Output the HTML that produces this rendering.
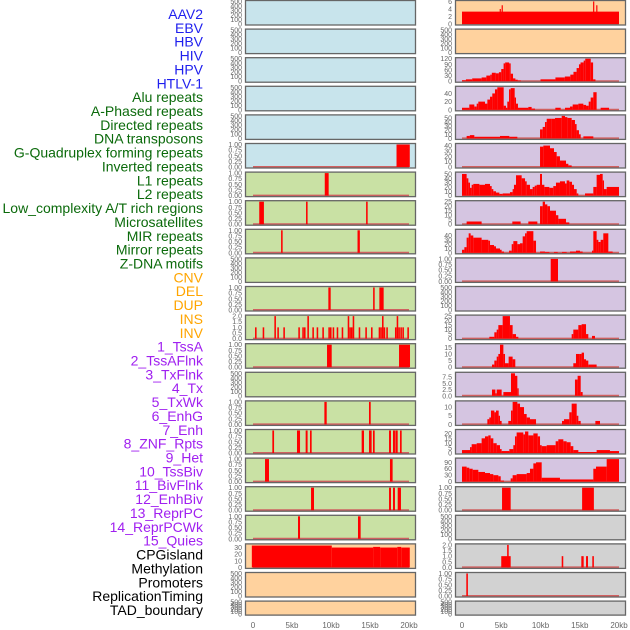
<!DOCTYPE html>
<html><head><meta charset="utf-8">
<style>
html,body{margin:0;padding:0;background:#fff;width:630px;height:630px;overflow:hidden}
svg{display:block}
</style></head>
<body>
<svg id="chart" width="630" height="630" xmlns="http://www.w3.org/2000/svg" font-family="Liberation Sans, sans-serif"></svg>
<script>
const labelNames = ["AAV2","EBV","HBV","HIV","HPV","HTLV-1","Alu repeats","A-Phased repeats","Directed repeats","DNA transposons","G-Quadruplex forming repeats","Inverted repeats","L1 repeats","L2 repeats","Low_complexity A/T rich regions","Microsatellites","MIR repeats","Mirror repeats","Z-DNA motifs","CNV","DEL","DUP","INS","INV","1_TssA","2_TssAFlnk","3_TxFlnk","4_Tx","5_TxWk","6_EnhG","7_Enh","8_ZNF_Rpts","9_Het","10_TssBiv","11_BivFlnk","12_EnhBiv","13_ReprPC","14_ReprPCWk","15_Quies","CPGisland","Methylation","Promoters","ReplicationTiming","TAD_boundary"];
const labelGroups = ["v","v","v","v","v","v","r","r","r","r","r","r","r","r","r","r","r","r","r","s","s","s","s","s","c","c","c","c","c","c","c","c","c","c","c","c","c","c","c","o","o","o","o","o"];
const xTickLabels = ["0","5kb","10kb","15kb","20kb"];
const xTickValues = [0,5,10,15,20];

const rAAV2 = [[0,20,3.3],[4.8,4.95,4],[5.05,5.2,5],[16.7,16.85,6],[17.1,17.25,5]];
const rHIV = [[0,0.5,5],[0.5,1.3,10],[1.3,2.5,15],[2.5,3.1,20],[3.1,3.6,30],[3.6,3.8,35],[3.8,4.3,45],[4.3,4.7,42],[4.7,5.0,48],[5.0,5.3,65],[5.3,5.5,95],[5.5,6.0,100],[6.0,6.2,95],[6.2,6.5,40],[6.5,6.8,15],[6.8,7.1,8],[7.1,7.5,4],[10.0,11.9,10],[11.9,13.1,20],[13.1,13.8,25],[13.8,14.2,35],[14.2,14.6,50],[14.6,14.9,70],[14.9,15.1,90],[15.1,15.5,100],[15.5,15.7,110],[15.7,16.4,120],[16.4,16.7,100],[16.7,17.0,10]];
const rAlu = [[0,0.93,5],[0.93,1.57,13],[1.57,1.87,8],[1.87,2.08,15],[2.08,2.93,20],[2.93,3.23,15],[3.23,3.57,25],[3.57,3.86,32],[3.86,4.2,40],[4.2,4.5,50],[4.5,5.31,55],[5.31,5.6,10],[5.6,5.77,5],[5.77,5.99,20],[5.99,6.2,50],[6.2,6.71,53],[6.71,6.88,30],[6.88,7.13,15],[7.13,8.45,5],[8.45,8.87,7],[8.87,9.3,3],[11.89,12.57,5],[13.12,13.76,5],[13.76,14.1,8],[14.1,14.82,13],[14.82,15.46,15],[15.46,15.8,12],[15.8,16.14,10],[16.14,16.39,20],[16.39,16.73,30],[16.73,17.15,43],[17.66,18.73,5]];
const rDirected = [[0.59,1.0,6],[1.0,1.57,8],[1.57,4.84,4],[4.84,6.03,6],[6.03,7.05,4],[9.94,10.28,22],[10.28,10.57,28],[10.57,10.79,40],[10.79,11.42,48],[11.42,11.85,48],[11.85,12.7,50],[12.7,13.12,55],[13.12,13.42,52],[13.42,13.97,50],[13.97,14.39,45],[14.39,14.6,35],[14.6,14.9,20],[14.9,15.12,10],[15.46,16.73,5]];
const rGQ = [[9.94,10.36,38],[10.36,11.21,40],[11.21,11.72,35],[11.72,12.06,28],[12.06,12.48,20],[12.48,13.25,12],[13.25,13.55,6],[13.55,13.97,3]];
const rL1 = [[0,0.59,50],[0.59,0.81,40],[0.81,1.02,30],[1.02,1.23,18],[1.23,1.44,25],[1.44,2.21,27],[2.21,2.93,25],[2.93,3.57,27],[3.57,3.78,22],[3.78,3.99,15],[3.99,4.33,10],[4.33,4.76,7],[4.76,5.18,4],[5.18,6.11,5],[6.11,6.45,8],[6.45,6.62,15],[6.62,6.88,25],[6.88,7.6,47],[7.6,8.03,40],[8.03,8.24,33],[8.24,8.66,25],[8.66,9.0,15],[9.0,9.26,20],[9.26,9.51,23],[9.51,9.94,25],[9.94,10.19,50],[10.19,10.49,25],[10.49,11.13,20],[11.13,11.63,18],[11.63,11.97,22],[11.97,12.48,30],[12.48,13.12,33],[13.12,13.33,28],[13.33,13.67,35],[13.67,14.01,32],[14.01,14.27,25],[14.27,14.61,15],[14.61,14.82,5],[15.67,16.73,5],[16.73,17.15,20],[17.15,17.58,48],[17.58,17.92,50],[17.92,18.09,35],[18.09,18.43,15],[18.43,20,20]];
const rL2 = [[0.59,2.5,3],[6.41,7.47,3],[8.45,9.6,3],[9.94,10.28,20],[10.28,10.57,25],[10.57,10.87,22],[10.87,11.21,20],[11.21,11.97,15],[11.97,12.27,10],[12.27,13.25,6],[13.25,13.67,2]];
const rLowC = [[0,0.3,7],[0.3,0.59,13],[0.59,0.85,35],[0.85,1.1,45],[1.1,1.44,40],[1.44,2.5,35],[2.5,3.35,30],[3.35,3.57,28],[3.57,4.08,18],[4.08,4.33,15],[4.33,4.84,10],[4.84,5.05,7],[5.05,5.35,3],[5.99,6.33,5],[6.33,6.54,20],[6.54,7.05,27],[7.05,7.39,20],[7.39,7.73,22],[7.73,8.03,38],[8.03,8.24,45],[8.24,9.09,50],[9.09,9.43,28],[9.94,10.57,3],[10.57,11.13,2],[11.72,12.19,2],[12.74,13.33,2],[13.76,14.52,3],[14.52,15.03,5],[15.03,15.37,3],[16.56,16.73,5],[16.73,17.15,50],[17.15,17.37,30],[17.37,17.66,25],[17.66,18.0,30],[18.0,18.64,45],[18.64,19.19,3]];
const rZDNA = [[11.3,12.23,1]];
const rINS = [[3.48,4.12,2],[4.12,4.42,7],[4.42,4.63,10],[4.63,5.18,15],[5.18,6.11,25],[6.11,6.45,15],[6.45,6.88,5],[6.88,7.18,2],[13.97,14.18,5],[14.18,14.82,10],[14.82,15.24,15],[15.24,15.8,16],[15.8,16.09,5],[16.56,16.94,3]];
const rTssA = [[3.82,4.12,2],[4.12,4.42,5],[4.42,4.63,8],[4.63,4.84,10],[4.84,5.27,17],[5.27,5.48,10],[5.48,5.94,3],[5.94,6.45,8],[6.45,6.79,6],[14.18,14.52,3],[14.52,14.95,10],[14.95,15.24,10],[15.24,15.54,11],[15.54,15.8,6],[15.8,16.09,5],[16.09,17.15,2]];
const rTxFlnk = [[3.82,4.25,2.5],[4.25,4.42,1],[4.42,5.05,2.5],[5.27,6.24,1.5],[6.24,6.75,9],[6.75,7.05,8],[7.05,7.22,3],[14.39,14.73,6.5],[14.73,15.12,8],[15.12,15.37,1.5]];
const rTxWk = [[3.23,3.48,3],[3.48,3.69,4],[3.69,4.12,8],[4.12,4.33,7],[4.33,4.67,8],[4.67,4.84,5],[4.84,5.05,2],[5.9,6.24,2],[6.24,6.45,8],[6.45,7.05,13],[7.05,7.39,12],[7.39,7.9,10],[7.9,8.24,6],[8.24,8.66,4],[8.66,9.43,3],[12.74,12.99,2],[12.99,13.67,3],[13.67,13.97,7],[13.97,14.61,12],[14.61,14.82,5],[14.82,15.12,2],[16.99,17.58,2]];
const rEnh = [[0,1.02,3],[1.02,1.23,6],[1.23,1.87,9],[1.87,2.5,10],[2.5,2.93,15],[2.93,3.35,17],[3.35,3.65,18],[3.65,3.99,15],[3.99,4.42,10],[4.42,4.84,8],[4.84,5.05,4],[5.05,6.03,2],[6.03,6.54,4],[6.54,6.75,8],[6.75,6.96,17],[6.96,7.81,21],[7.81,8.03,19],[8.03,8.45,22],[8.45,9.09,18],[9.09,9.64,20],[9.64,9.94,17],[9.94,10.15,8],[10.15,10.79,7],[10.79,11.93,8],[11.93,12.27,12],[12.27,12.91,14],[12.91,13.33,12],[13.33,13.84,11],[13.84,14.18,7],[14.18,14.82,3],[14.82,17.15,1],[17.15,18.85,3],[18.85,20,2]];
const rHet = [[0,0.59,70],[0.59,0.93,65],[0.93,1.36,60],[1.36,2.08,55],[2.08,2.93,45],[2.93,3.57,40],[3.57,3.99,35],[3.99,4.63,30],[4.63,4.93,25],[4.93,5.35,5],[6.2,6.45,15],[6.45,6.96,30],[6.96,8.24,35],[8.24,8.66,40],[8.66,9.09,60],[9.09,9.43,85],[9.43,10.15,90],[10.15,12.48,18],[12.48,16.73,10],[16.73,17.07,60],[17.07,18.43,70],[18.43,20,105]];
const rBiv = [[5.1,6.2,1],[15.3,16.8,1]];
const rCPG = [[5.0,6.2,1],[5.75,5.95,2],[12.7,12.9,1],[15.2,15.5,1],[15.8,16.05,1],[16.6,16.8,1]];
const rMeth = [[0.55,0.75,1]];

const lGQ = [[18.4,20.1,1]];
const lL1 = [[9.2,9.7,1]];
const lLowC = [[0.8,1.4,1],[6.8,7.0,1],[14.5,14.7,1]];
const lMIR = [[3.6,3.8,1],[13.4,13.7,1]];
const lDEL = [[9.66,9.96,1],[15.4,15.6,1],[16.2,16.75,1]];
const lINS = [[0.26,0.46,1],[1.24,1.44,1],[2.74,2.94,2],[3.12,3.32,1],[3.89,4.09,1],[5.81,6.01,1],[6.32,6.52,1],[6.54,6.74,1],[6.97,7.17,2],[7.61,7.81,1],[8.16,8.36,1],[8.89,9.09,1],[9.66,9.86,1],[9.87,10.07,1],[10.21,10.41,1],[10.73,10.93,1],[11.37,11.57,1],[12.14,12.34,2],[12.35,12.55,1],[12.56,12.76,1],[12.78,12.98,2],[13.55,13.75,1],[14.4,14.6,1],[15.13,15.33,1],[16.11,16.31,1],[16.32,16.52,1],[16.54,16.74,2],[16.75,16.95,1],[17.09,17.29,1],[18.2,18.4,1],[18.42,18.62,2],[18.63,18.83,1],[18.89,19.09,1],[19.15,19.35,1],[19.79,19.99,1]];
const lTssA = [[9.49,10.09,1],[18.72,20.13,1]];
const lTxFlnk = [[9.15,9.45,1],[14.87,15.09,1]];
const lEnh = [[2.48,2.7,1],[5.64,6.03,1],[6.75,7.0,1],[7.31,7.52,1],[13.93,14.23,1],[14.87,15.21,1],[15.38,15.6,1],[17.44,17.69,1],[17.95,18.2,1],[18.25,18.55,1],[18.85,19.06,1]];
const lHet = [[1.54,2.05,1],[17.56,17.9,1]];
const lBiv = [[7.44,7.82,1],[17.44,17.69,1],[17.95,18.2,1],[18.55,18.97,1]];
const lRepr = [[5.77,6.03,1],[13.46,13.8,1]];
const lCPG = [[-0.15,10.1,33],[10.1,15.4,30],[15.4,16.3,31],[16.3,18.5,30],[18.5,19.0,31],[19.0,20.1,30]];

const T500 = [0,100,200,300,400,500];
const T1 = [0,0.25,0.5,0.75,1];
const T2 = [0,0.5,1,1.5,2];

const colors = {blue:"#c8e4ec",green:"#c9e1a4",peach:"#ffd29e",lav:"#d5c5e1",gray:"#d2d2d2"};
const leftPanels = [
 ["blue",null,500,T500],["blue",null,500,T500],["blue",null,500,T500],["blue",null,500,T500],["blue",null,500,T500],
 ["blue",lGQ,1,T1],["green",lL1,1,T1],["green",lLowC,1,T1],["green",lMIR,1,T1],["green",null,500,T500],
 ["green",lDEL,1,T1],["green",lINS,2,T2],["green",lTssA,1,T1],["green",null,500,T500],["green",lTxFlnk,1,T1],
 ["green",lEnh,1,T1],["green",lHet,1,T1],["green",lBiv,1,T1],["green",lRepr,1,T1],["peach",lCPG,34,[0,10,20,30]],
 ["peach",null,500,T500],["peach",null,500,T500]];
const rightPanels = [
 ["peach",rAAV2,6,[0,2,4,6]],["peach",null,500,T500],["lav",rHIV,120,[0,30,60,90,120]],["lav",rAlu,55,[0,20,40]],["lav",rDirected,55,[0,10,20,30,40,50]],
 ["lav",rGQ,42,[0,10,20,30,40]],["lav",rL1,52,[0,10,20,30,40,50]],["lav",rL2,25,[0,5,10,15,20,25]],["lav",rLowC,52,[0,10,20,30,40]],["lav",rZDNA,1,T1],
 ["lav",null,500,T500],["lav",rINS,25,[0,5,10,15,20,25]],["lav",rTssA,17,[0,5,10,15]],["lav",rTxFlnk,9,[0,2.5,5,7.5]],["lav",rTxWk,13,[0,5,10]],
 ["lav",rEnh,23,[0,5,10,15,20]],["lav",rHet,105,[0,30,60,90]],["gray",rBiv,1,T1],["gray",null,500,T500],["gray",rCPG,2,T2],
 ["gray",rMeth,1,T1],["gray",null,500,T500]];

const NS = "http://www.w3.org/2000/svg";
const svg = document.getElementById("chart");
function mk(tag, attrs, parent){const e=document.createElementNS(NS,tag);for(const k in attrs)e.setAttribute(k,attrs[k]);(parent||svg).appendChild(e);return e;}

const groupColor = {v:"#1f1fee",r:"#0b6a0b",s:"#ffa500",c:"#a020f0",o:"#000"};
labelNames.forEach((name,i)=>{
  const t = mk("text",{x:203,y:15+i*13.86+4,"text-anchor":"end","font-size":"14",fill:groupColor[labelGroups[i]]});
  
  
  t.textContent = name;
});

function fmt(v, ticks){
  const max = ticks[ticks.length-1];
  if(max===1) return v.toFixed(2);
  if(max===2 || ticks.includes(2.5)) return v.toFixed(1);
  return String(v);
}

function drawColumn(panels, px, x0, x1, colName){
  const xs = kb => x0 + kb*(x1-x0)/20;
  panels.forEach((p,i)=>{
    const [bg,data,ymax,ticks] = p;
    const top = i*28.6, h = (i===21)?15:25.5;
    const g = mk("g",{});
    
    
    mk("rect",{x:px,y:top,width:171,height:h,fill:colors[bg]},g);
    const yb = top+h-1.5, yt = top+1.5;
    const ys = v => yb - (v/ymax)*(yb-yt);
    ticks.forEach(tv=>{
      const tt = mk("text",{x:px-3,y:ys(tv)+2.5,"text-anchor":"end","font-size":"7",fill:"#666"},g);
      
      
      tt.textContent = fmt(tv,ticks);
    });
    if(data){
      const bl = mk("line",{x1:xs(0),x2:xs(20),y1:yb,y2:yb,stroke:"#d06060","stroke-width":2},g);
      
      
      data.forEach(d=>{
        const r = mk("rect",{x:xs(d[0]),y:ys(d[2]),width:Math.max(0.8,xs(d[1])-xs(d[0])),height:yb-ys(d[2]),fill:"#ff0000"},g);
        
        
      });
    }
    mk("rect",{x:px+0.5,y:top+0.5,width:170,height:h-1,fill:"none",stroke:"#666","stroke-width":1.3},g);
  });
  xTickValues.forEach((v,j)=>{
    const t = mk("text",{x:xs(v),y:628,"text-anchor":"middle","font-size":"8",fill:"#666"});
    
    
    t.textContent = xTickLabels[j];
  });
}
drawColumn(leftPanels, 245, 253, 409, "left");
drawColumn(rightPanels, 455, 462, 619, "right");
</script>
</body></html>
